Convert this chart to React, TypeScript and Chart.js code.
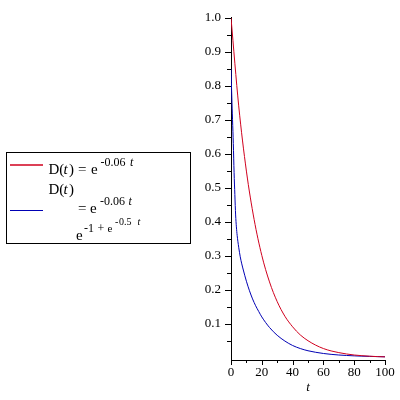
import React, { useEffect, useRef } from "react";
import { Chart, registerables } from "chart.js";

Chart.register(...registerables);

// ---- data ----
const redT = [0, 5, 10, 15, 20, 25, 30, 35, 40, 45, 50, 55, 60, 65, 70, 75, 80, 85, 90, 95, 100];
const redD = [1.0, 0.741, 0.549, 0.407, 0.301, 0.223, 0.165, 0.122, 0.091, 0.067, 0.05, 0.037, 0.027, 0.02, 0.015, 0.011, 0.008, 0.006, 0.0045, 0.0033, 0.0025];

const blueT = [0, 0.5, 1, 1.5, 2, 2.5, 3, 3.5, 4, 5, 6, 7, 8, 10, 12, 14, 16, 18, 20, 25, 30, 35, 40, 45, 50, 55, 60, 65, 70, 75, 80, 85, 90, 95, 100];
const blueD = [0.85, 0.77, 0.7, 0.63, 0.545, 0.48, 0.42, 0.385, 0.36, 0.325, 0.297, 0.276, 0.258, 0.225, 0.197, 0.173, 0.153, 0.136, 0.12, 0.089, 0.066, 0.049, 0.036, 0.027, 0.0205, 0.016, 0.0125, 0.0099, 0.008, 0.0066, 0.0055, 0.0046, 0.0039, 0.0033, 0.0028];

const xTickValues = [0, 10, 20, 30, 40, 50, 60, 70, 80, 90, 100];
const xLabelValues = [0, 20, 40, 60, 80, 100];
const yTickValues = [0.05, 0.1, 0.15, 0.2, 0.25, 0.3, 0.35, 0.4, 0.45, 0.5, 0.55, 0.6, 0.65, 0.7, 0.75, 0.8, 0.85, 0.9, 0.95, 1.0];
const yLabelValues = [0.1, 0.2, 0.3, 0.4, 0.5, 0.6, 0.7, 0.8, 0.9, 1.0];
const xTitle = "t";

const RED = "#d0001e";
const BLUE = "#0000b4";
const FONT = '"Liberation Serif", "Times New Roman", serif';

// legend text pieces: [text, x, baseline, size, italic]
type Piece = [string, number, number, number, boolean];
const legendPieces: Piece[] = [
  // D(t) = e^{-0.06 t}
  ["D(", 48.5, 174, 15, false],
  ["t", 63.5, 174, 15, true],
  [")", 69, 174, 15, false],
  ["=", 78, 174, 15, false],
  ["e", 91, 174, 15, false],
  ["-", 100.5, 166, 12, false],
  ["0.06", 104.5, 166, 12, false],
  ["t", 130, 166, 12, true],
  // D(t)
  ["D(", 48.5, 194, 15, false],
  ["t", 63.5, 194, 15, true],
  [")", 69, 194, 15, false],
  // = e^{-0.06 t}
  ["=", 78, 213, 15, false],
  ["e", 90, 213, 15, false],
  ["-", 100, 205, 12, false],
  ["0.06", 104, 205, 12, false],
  ["t", 128.5, 205, 12, true],
  // e^{-1 + e^{-0.5 t}}
  ["e", 76, 240, 15, false],
  ["-", 84, 232, 12, false],
  ["1", 88, 232, 12, false],
  ["+", 97.5, 232, 12, false],
  ["e", 107.5, 232, 11, false],
  ["-", 115, 224.5, 10, false],
  ["0.5", 119, 224.5, 10, false],
  ["t", 137.5, 224.5, 10, true],
];

const isLabel = (v: number, arr: number[]) => arr.some((a) => Math.abs(a - v) < 1e-9);

const tickPlugin = {
  id: "maple-ticks",
  afterDraw(chart: any) {
    const ctx: CanvasRenderingContext2D = chart.ctx;
    const { left, bottom } = chart.chartArea;
    const xs = chart.scales.x;
    const ys = chart.scales.y;
    ctx.save();
    ctx.strokeStyle = "#000";
    ctx.lineWidth = 1;
    ctx.beginPath();
    for (const t of xs.ticks) {
      const px = Math.round(xs.getPixelForValue(t.value)) + 0.5;
      const len = isLabel(t.value, xLabelValues) ? 5 : 3;
      ctx.moveTo(px, Math.round(bottom));
      ctx.lineTo(px, Math.round(bottom) + len);
    }
    for (const t of ys.ticks) {
      const py = Math.round(ys.getPixelForValue(t.value)) + 0.5;
      const len = isLabel(t.value, yLabelValues) ? 6 : 4;
      ctx.moveTo(Math.round(left), py);
      ctx.lineTo(Math.round(left) - len, py);
    }
    ctx.stroke();

    // legend box
    ctx.strokeStyle = "#000";
    ctx.strokeRect(6.5, 152.5, 184, 91);
    ctx.lineWidth = 1.3;
    ctx.strokeStyle = RED;
    ctx.beginPath();
    ctx.moveTo(10, 165);
    ctx.lineTo(43, 165);
    ctx.stroke();
    ctx.strokeStyle = BLUE;
    ctx.lineWidth = 1;
    ctx.beginPath();
    ctx.moveTo(10, 210.5);
    ctx.lineTo(43, 210.5);
    ctx.stroke();

    ctx.fillStyle = "#000";
    ctx.textBaseline = "alphabetic";
    ctx.textAlign = "left";
    for (const [text, x, y, size, italic] of legendPieces) {
      ctx.font = `${italic ? "italic " : ""}${size}px ${FONT}`;
      ctx.fillText(text, x, y);
    }
    ctx.restore();
  },
};

export default function App() {
  const ref = useRef<HTMLCanvasElement | null>(null);

  useEffect(() => {
    document.body.style.margin = "0";
    const canvas = ref.current;
    if (!canvas) return;
    const chart = new Chart(canvas, {
      type: "line",
      data: {
        datasets: [
          {
            label: "D(t) = e^(-0.06 t)",
            data: redT.map((t, i) => ({ x: t, y: redD[i] })),
            borderColor: RED,
            borderWidth: 1,
            pointRadius: 0,
            cubicInterpolationMode: "monotone",
            fill: false,
          },
          {
            label: "D(t) = e^(-0.06 t) / e^(-1 + e^(-0.5 t))",
            data: blueT.map((t, i) => ({ x: t, y: blueD[i] })),
            borderColor: BLUE,
            borderWidth: 1,
            pointRadius: 0,
            cubicInterpolationMode: "monotone",
            fill: false,
          },
        ],
      },
      options: {
        animation: false,
        responsive: false,
        events: [],
        layout: { padding: { left: 0, top: 14, right: 15, bottom: 0 } },
        plugins: { legend: { display: false }, tooltip: { enabled: false } },
        scales: {
          x: {
            type: "linear",
            min: 0,
            max: 100,
            grid: { display: false, drawTicks: false, tickLength: 0 },
            border: { display: true, color: "#000", width: 1 },
            afterFit: (s: any) => {
              s.height = 40;
            },
            afterBuildTicks: (s: any) => {
              s.ticks = xTickValues.map((v) => ({ value: v }));
            },
            ticks: {
              autoSkip: false,
              maxRotation: 0,
              padding: 5,
              color: "#000",
              font: { family: FONT, size: 13 },
              callback: (v: any) => (isLabel(Number(v), xLabelValues) ? String(v) : ""),
            },
            title: {
              display: true,
              text: xTitle,
              color: "#000",
              font: { family: FONT, size: 13, style: "italic" },
              padding: { top: 0, bottom: 5 },
            },
          },
          y: {
            type: "linear",
            min: -0.0067,
            max: 1.0,
            grid: { display: false, drawTicks: false, tickLength: 0 },
            border: { display: true, color: "#000", width: 1 },
            afterFit: (s: any) => {
              s.width = 231;
            },
            afterBuildTicks: (s: any) => {
              s.ticks = yTickValues.map((v) => ({ value: v }));
            },
            ticks: {
              autoSkip: false,
              padding: 10,
              color: "#000",
              font: { family: FONT, size: 13 },
              callback: (v: any) => (isLabel(Number(v), yLabelValues) ? Number(v).toFixed(1) : ""),
            },
          },
        },
      },
      plugins: [tickPlugin],
    } as any);
    return () => chart.destroy();
  }, []);

  return (
    <div style={{ position: "fixed", left: 0, top: 0, width: 400, height: 400, background: "#fff" }}>
      <canvas ref={ref} width={400} height={400} style={{ display: "block" }} />
    </div>
  );
}
